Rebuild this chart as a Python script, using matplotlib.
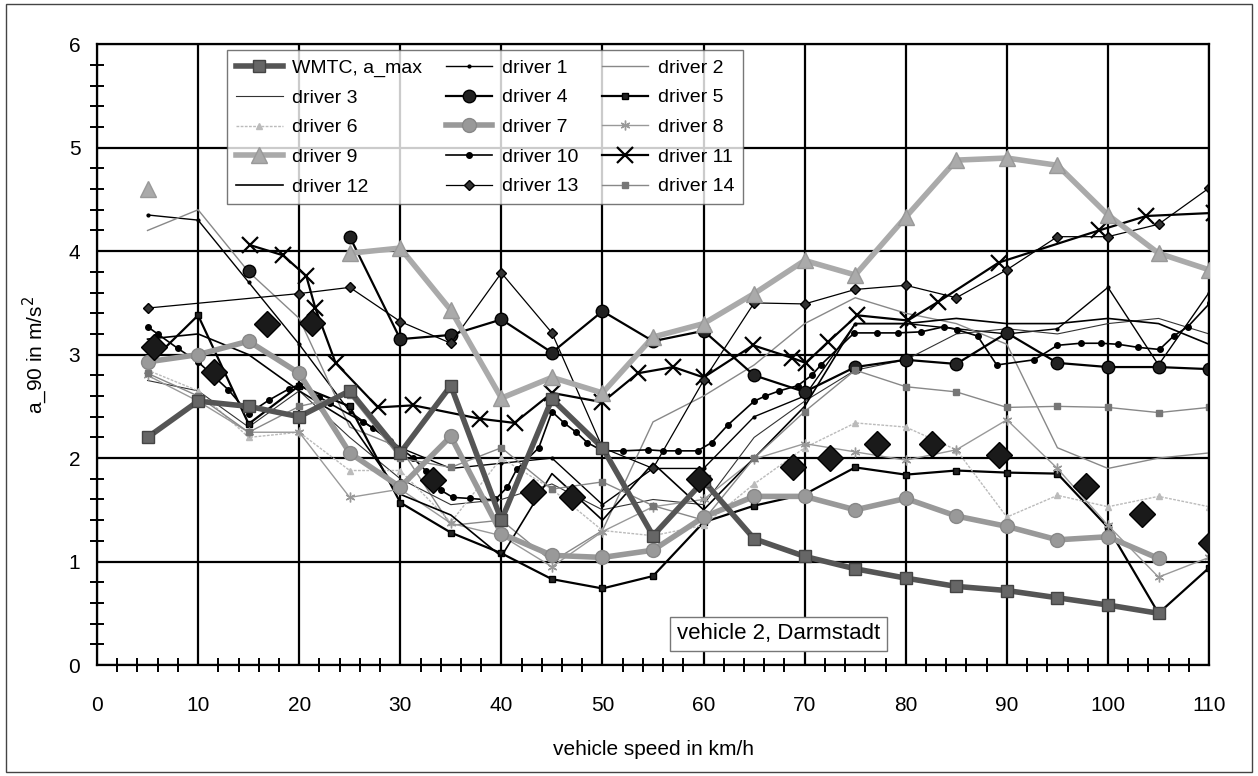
import numpy as np
import matplotlib
matplotlib.use("Agg")
import matplotlib.pyplot as plt
from matplotlib.patches import Rectangle

plt.rcParams['font.family'] = ['Liberation Sans', 'DejaVu Sans']

nan = np.nan
x5 = [5, 10, 15, 20, 25, 30, 35, 40, 45, 50, 55, 60, 65, 70, 75, 80, 85, 90, 95, 100, 105, 110]

wmtc_x = x5[:21]
wmtc = [2.2, 2.55, 2.5, 2.4, 2.65, 2.05, 2.7, 1.4, 2.57, 2.1, 1.25, 1.78, 1.22, 1.05, 0.93, 0.84,
        0.76, 0.72, 0.65, 0.58, 0.5]

d1 = [4.35, 4.3, 3.7, 3.1, 2.45, 2.1, 1.9, 1.95, 2.0, 1.55, 1.9, 1.9, 2.4, 2.6, 3.3, 3.3, 3.25, 3.2,
      3.25, 3.65, 2.9, 3.6]
d2 = [4.2, 4.4, 3.8, 3.35, 2.3, 2.1, 1.35, 1.4, 1.0, 1.3, 2.35, 2.6, 2.9, 3.3, 3.55, 3.4, 3.3, 3.1,
      2.1, 1.9, 2.0, 2.05]
d3 = [2.75, 2.65, 2.3, 2.65, 2.2, 1.8, 1.55, 1.6, 1.75, 1.5, 1.6, 1.55, 2.2, 2.55, 2.85, 2.95, 3.2,
      3.25, 3.2, 3.3, 3.35, 3.2]
d4 = [nan, nan, 3.81, nan, 4.14, 3.15, 3.19, 3.34, 3.02, 3.42, 3.13, 3.23, 2.8, 2.64, 2.88, 2.95,
      2.91, 3.21, 2.92, 2.88, 2.88, 2.86]
d5 = [2.9, 3.38, 2.33, 2.7, 2.5, 1.57, 1.28, 1.08, 0.83, 0.74, 0.86, 1.38, 1.54, 1.65, 1.91, 1.84,
      1.88, 1.86, 1.85, 1.33, 0.5, 0.94]
d6 = [2.85, 2.65, 2.2, 2.25, 1.88, 1.88, 1.38, 2.0, 1.7, 1.3, 1.25, 1.35, 1.75, 2.1, 2.34, 2.3,
      2.08, 1.43, 1.64, 1.53, 1.63, 1.53]
d7_x = x5[:21]
d7 = [2.93, 3.0, 3.13, 2.82, 2.05, 1.72, 2.21, 1.27, 1.06, 1.04, 1.11, 1.43, 1.63, 1.63, 1.50, 1.61,
      1.44, 1.34, 1.21, 1.24, 1.03]
d8 = [2.8, 2.55, 2.25, 2.25, 1.62, 1.7, 1.37, 1.25, 0.95, 1.29, 1.53, 1.6, 1.99, 2.14, 2.06, 1.98,
      2.08, 2.37, 1.9, 1.35, 0.85, 1.04]
d9 = [4.6, nan, nan, nan, 3.98, 4.03, 3.43, 2.58, 2.78, 2.63, 3.17, 3.3, 3.59, 3.91, 3.77, 4.33,
      4.88, 4.9, 4.83, 4.35, 3.98, 3.82]
d10_x = [5, 6, 8, 10, 13, 15, 17, 19, 20, 22, 23, 26.3, 27.3, 29, 31.3, 32.5, 34, 35.2, 36.9, 38.2,
         39.4, 40.6, 41.5, 43.7, 45, 46.2, 47.4, 48.5, 50, 52, 54.5, 56, 57.5, 59.4, 60.8, 62.4, 65,
         66.1, 67.5, 69.3, 70.7, 71.6, 74.9, 77.2, 79.2, 81.5, 83.8, 85.1, 87.1, 89, 92.7, 95, 97.3,
         99.3, 101, 103, 105.1, 106.5, 107.9, 110.1]
d10 = [3.27, 3.2, 3.06, 2.93, 2.66, 2.43, 2.56, 2.67, 2.71, 2.59, 2.53, 2.35, 2.29, 2.17, 2.0, 1.88,
       1.69, 1.62, 1.61, 1.6, 1.6, 1.72, 1.89, 2.1, 2.45, 2.34, 2.25, 2.15, 2.07, 2.07, 2.08, 2.07,
       2.07, 2.07, 2.15, 2.32, 2.55, 2.6, 2.65, 2.7, 2.8, 2.9, 3.21, 3.21, 3.21, 3.22, 3.27, 3.24,
       3.18, 2.9, 2.95, 3.09, 3.11, 3.11, 3.1, 3.07, 3.05, 3.18, 3.27, 3.5]
d11_x = [15.1, 18.4, 20.7, 21.6, 23.6, 27.8, 31.3, 37.9, 41.3, 45, 50, 53.5, 57, 60, 64.9, 68.7,
         70.1, 72.3, 75.2, 80.2, 83.2, 89.2, 99.1, 103.8, 110.5]
d11 = [4.06, 3.96, 3.76, 3.45, 2.92, 2.49, 2.51, 2.38, 2.34, 2.63, 2.54, 2.82, 2.88, 2.78, 3.09,
       2.97, 2.92, 3.12, 3.38, 3.33, 3.51, 3.89, 4.2, 4.34, 4.37]
d12 = [3.15, 3.2, 3.0, 2.65, 2.35, 1.65, 1.45, 1.05, 1.85, 1.4, 1.95, 1.5, 2.0, 2.5, 3.3, 3.3, 3.35,
       3.3, 3.3, 3.35, 3.3, 3.1]
d13_x = [5, 20, 25, 30, 35, 40, 45, 50, 55, 60, 65, 70, 75, 80, 85, 90, 95, 100, 105, 110]
d13 = [3.45, 3.59, 3.65, 3.32, 3.11, 3.79, 3.21, 2.1, 1.9, 2.75, 3.5, 3.49, 3.63, 3.67, 3.55, 3.82,
       4.14, 4.14, 4.26, 4.61]
d14 = [2.82, 2.6, 2.25, 2.5, 2.61, 2.0, 1.91, 2.1, 1.7, 1.77, 1.54, 1.4, 2.0, 2.45, 2.85, 2.69,
       2.64, 2.49, 2.5, 2.49, 2.44, 2.49]
big_x = [5.6, 11.6, 16.8, 21.3, 33.2, 43.1, 47, 59.5, 68.8, 72.5, 77.2, 82.6, 89.2, 97.8, 103.4, 110.2]
big = [3.07, 2.83, 3.30, 3.31, 1.79, 1.67, 1.62, 1.8, 1.91, 2.0, 2.14, 2.14, 2.03, 1.73, 1.46, 1.18]

fig = plt.figure(figsize=(12.58, 7.76), dpi=100)
ax = fig.add_axes([0.0771, 0.143, 0.884, 0.800])

h = {}
h['WMTC, a_max'], = ax.plot(wmtc_x, wmtc, color='#555555', lw=4, marker='s', ms=9, mfc='#666666',
                            mec='#444444', zorder=5)
h['driver 1'], = ax.plot(x5, d1, color='black', lw=1, marker='.', ms=4)
h['driver 2'], = ax.plot(x5, d2, color='#888888', lw=1)
h['driver 3'], = ax.plot(x5, d3, color='#333333', lw=0.8)
h['driver 4'], = ax.plot(x5, d4, color='black', lw=1.6, marker='o', ms=9, mfc='#222222')
h['driver 5'], = ax.plot(x5, d5, color='black', lw=1.6, marker='s', ms=5, mfc='#222222')
h['driver 6'], = ax.plot(x5, d6, color='#bbbbbb', lw=1, ls=(0, (2, 1)), marker='^', ms=4)
h['driver 7'], = ax.plot(d7_x, d7, color='#999999', lw=4, marker='o', ms=10, mfc='#999999',
                         mec='#888888', zorder=4)
h['driver 8'], = ax.plot(x5, d8, color='#999999', lw=1, marker=(6, 2, 0), ms=7)
h['driver 9'], = ax.plot(x5, d9, color='#aaaaaa', lw=4, marker='^', ms=11, mfc='#aaaaaa',
                         mec='#999999', zorder=4)
h['driver 10'], = ax.plot(d10_x, d10, color='black', lw=1.2, marker='o', ms=4)
h['driver 11'], = ax.plot(d11_x, d11, color='black', lw=1.6, marker='x', ms=11, mew=1.6)
h['driver 12'], = ax.plot(x5, d12, color='black', lw=1.2)
h['driver 13'], = ax.plot(d13_x, d13, color='black', lw=0.9, marker='D', ms=5, mfc='#333333')
h['driver 14'], = ax.plot(x5, d14, color='#888888', lw=1, marker='s', ms=5, mfc='#777777',
                          mec='#777777')
ax.plot(big_x, big, ls='none', marker='D', ms=13, color='#1a1a1a', mec='#000000', zorder=6)

ax.set_xlim(0, 110)
ax.set_ylim(0, 6)
ax.set_xticks(np.arange(0, 111, 10))
ax.set_yticks(np.arange(0, 7, 1))
ax.set_xticks(np.arange(0, 111, 2), minor=True)
ax.set_yticks(np.arange(0, 6.01, 0.2), minor=True)
ax.grid(True, which='major', color='black', lw=1.6)
ax.tick_params(which='both', direction='inout', colors='black', labelsize=15)
ax.tick_params(which='major', length=0)
ax.tick_params(axis='x', which='major', pad=22)
ax.tick_params(axis='y', which='major', pad=12)
ax.tick_params(which='minor', length=10, width=1.4)
for s in ax.spines.values():
    s.set_linewidth(1.6)
ax.set_xlabel('vehicle speed in km/h', fontsize=15, labelpad=18)
ax.set_ylabel('a_90 in m/s$^2$', fontsize=15, labelpad=14)

# legend filled row by row, as in the original
names = ['WMTC, a_max'] + ['driver %d' % i for i in range(1, 15)]
order = [names[r * 3 + c] for c in range(3) for r in range(5)]
leg = ax.legend([h[n] for n in order], order, ncol=3, loc='upper left',
                bbox_to_anchor=(0.117, 0.99), borderaxespad=0, fontsize=14, frameon=True,
                fancybox=False, edgecolor='#555555', handlelength=2.4, handletextpad=0.5,
                columnspacing=1.2, labelspacing=0.62, borderpad=0.45)
leg.get_frame().set_linewidth(1)

ax.text(67.4, 0.3, 'vehicle 2, Darmstadt', fontsize=16, ha='center', va='center',
        bbox=dict(boxstyle='square,pad=0.3', fc='white', ec='#777777', lw=1), zorder=7)

fig.patches.append(Rectangle((0.005, 0.005), 0.99, 0.99, transform=fig.transFigure, fill=False,
                             ec='#444444', lw=1))

fig.savefig('out.png', dpi=100)
